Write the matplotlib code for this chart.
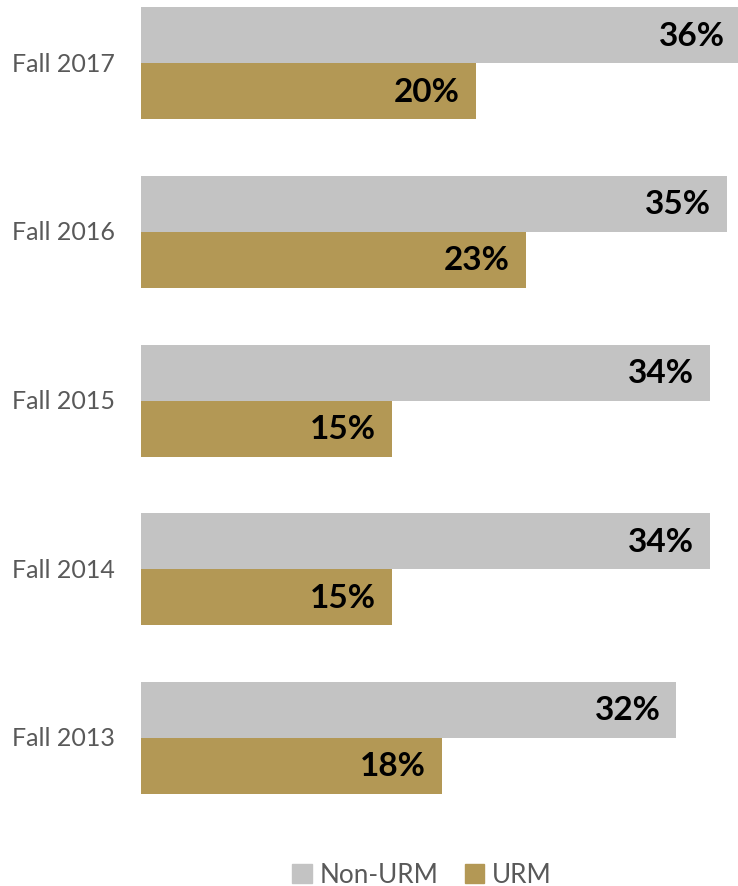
import matplotlib

matplotlib.use("Agg")
import matplotlib.pyplot as plt
from matplotlib.patches import Patch
import numpy as np

# data, oldest term at the bottom
terms = ["Fall 2013", "Fall 2014", "Fall 2015", "Fall 2016", "Fall 2017"]
non_urm = [32, 34, 34, 35, 36]
urm = [18, 15, 15, 23, 20]
series_names = ["Non-URM", "URM"]

GRAY = "#C3C3C3"
GOLD = "#B39855"
TEXT = "#595959"
FONT = ["Lato", "DejaVu Sans"]

W, H, DPI = 738, 887, 100

fig = plt.figure(figsize=(W / DPI, H / DPI), dpi=DPI)
# axes spans from x=141px to the right edge, top edge to y=831px
ax = fig.add_axes([141 / W, 1 - 831 / H, 1 - 141 / W, 831 / H])

y = np.arange(len(terms))
bar_h = 56 / 168.75

ax.barh(y + bar_h / 2, non_urm, height=bar_h, color=GRAY, label=series_names[0])
ax.barh(y - bar_h / 2, urm, height=bar_h, color=GOLD, label=series_names[1])

x_max = (738 - 141) / 16.73
ax.set_xlim(0, x_max)
ax.set_ylim(-92 / 168.75, 4 + 64 / 168.75)

pad = 16 / 16.73
for yi, v in zip(y, non_urm):
    x_end = min(v - pad, x_max - 13 / 16.73)
    ax.text(x_end, yi + bar_h / 2, f"{v}%",
            ha="right", va="center", fontsize=24, fontweight="bold",
            color="black", family=FONT)
for yi, v in zip(y, urm):
    ax.text(v - pad, yi - bar_h / 2, f"{v}%", ha="right", va="center",
            fontsize=24, fontweight="bold", color="black", family=FONT)

for yi, t in zip(y, terms):
    ax.text(-1.55, yi, t, ha="right", va="center", fontsize=18,
            color=TEXT, family=FONT)

ax.set_xticks([])
ax.set_yticks([])
for side in ax.spines.values():
    side.set_visible(False)

handles = [Patch(color=GRAY), Patch(color=GOLD)]
fig.legend(handles, series_names, loc="center", bbox_to_anchor=(422 / W, 1 - 876 / H),
           ncol=2, frameon=False, handlelength=0.75, handleheight=0.75,
           handletextpad=0.3, columnspacing=1.0,
           prop={"family": FONT, "size": 18.8}, labelcolor=TEXT)

fig.savefig("out.png", dpi=DPI)
plt.close(fig)
